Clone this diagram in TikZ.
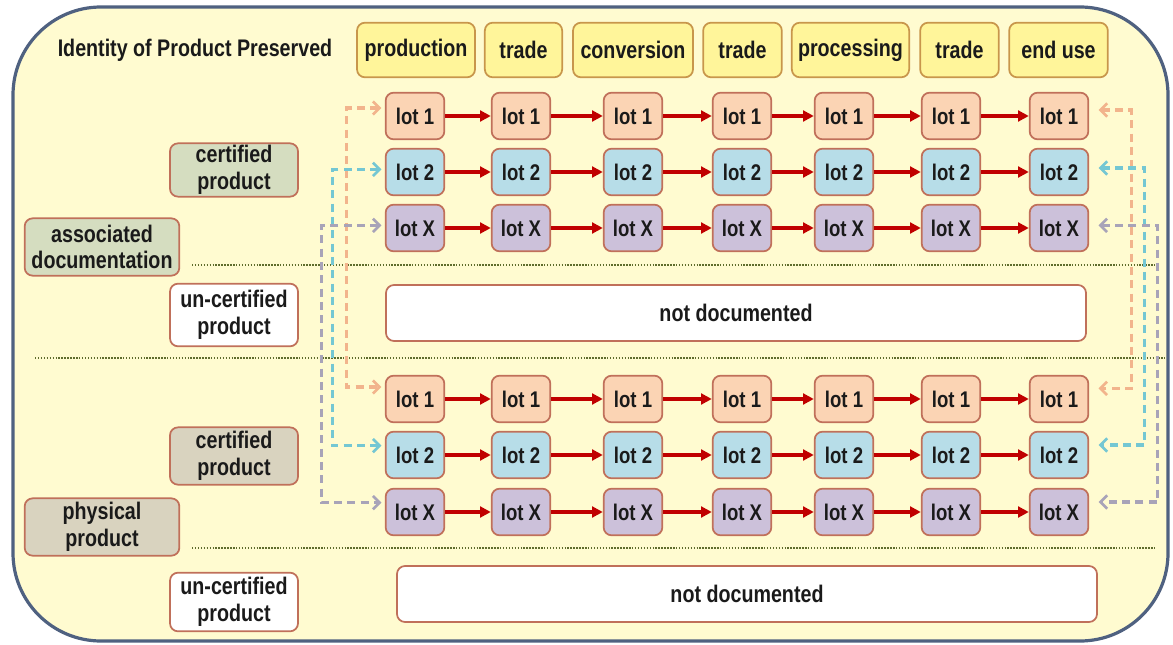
\documentclass[tikz,border=0pt]{standalone}
\usepackage{fontspec}
\setmainfont{Liberation Sans}[FakeStretch=0.82]
\usetikzlibrary{arrows.meta,calc}
\definecolor{framec}{HTML}{4F6180}
\definecolor{framefill}{HTML}{FFFBD0}
\definecolor{boxline}{HTML}{C0705A}
\definecolor{headfill}{HTML}{FFF59A}
\definecolor{headline}{HTML}{C8964B}
\definecolor{lotone}{HTML}{FBD4B4}
\definecolor{lottwo}{HTML}{B7DDE8}
\definecolor{lotx}{HTML}{CCC1DA}
\definecolor{certup}{HTML}{D5DDC0}
\definecolor{certlow}{HTML}{D9D3BF}
\definecolor{redarrow}{HTML}{C00000}
\definecolor{dotc}{HTML}{5E6C2C}
\definecolor{peachd}{HTML}{F2B48C}
\definecolor{cyand}{HTML}{74C7D3}
\definecolor{greyd}{HTML}{A8A3B8}
\definecolor{txt}{HTML}{1A1A1A}
\begin{document}
\begin{tikzpicture}[x=0.75pt,y=-0.75pt,
  every node/.style={text=txt,font=\bfseries\fontsize{18}{20}\selectfont,align=center,inner sep=0pt},
  lotbox/.style={draw=boxline,line width=1.3pt,rounded corners=6pt,minimum width=44pt,minimum height=35pt,font=\bfseries\fontsize{17}{19}\selectfont},
  lotA/.style={lotbox,fill=lotone},
  lotB/.style={lotbox,fill=lottwo},
  lotC/.style={lotbox,fill=lotx},
  headbox/.style={draw=headline,line width=1.3pt,fill=headfill,rounded corners=6pt,minimum height=41pt},
  labbox/.style={draw=boxline,line width=1.3pt,rounded corners=6pt,minimum height=42pt},
  nodoc/.style={draw=boxline,line width=1.3pt,fill=white,rounded corners=6pt,minimum width=525pt,minimum height=42pt},
  flow/.style={draw=redarrow,line width=2.5pt,-{Triangle[length=8pt,width=8pt]}},
  link/.style={line width=2.4pt,dash pattern=on 6pt off 4pt,{Straight Barb[length=5pt,width=10pt,line width=2pt]}-{Straight Barb[length=5pt,width=10pt,line width=2pt]}},
  sep/.style={draw=dotc,line width=1.8pt,dash pattern=on 1.1pt off 1.1pt}
]
\useasboundingbox (0,0) rectangle (1173,645);
\draw[framec,line width=2.4pt,fill=framefill,rounded corners=66pt] (13,7) rectangle (1168,641);

% title and headers
\node (title) at (195,50) {Identity of Product Preserved};
\node[headbox,minimum width=88.5pt] (h1) at (416,50) {production};
\node[headbox,minimum width=58pt] (h2) at (523.5,50) {trade};
\node[headbox,minimum width=90pt] (h3) at (633,50) {conversion};
\node[headbox,minimum width=59pt] (h4) at (742.5,50) {trade};
\node[headbox,minimum width=88pt] (h5) at (850.5,50) {processing};
\node[headbox,minimum width=59pt] (h6) at (959.5,50) {trade};
\node[headbox,minimum width=74pt] (h7) at (1058.5,50) {end use};

% separators
\draw[sep] (192,265) -- (1155,265);
\draw[sep] (35,358) -- (1165,358);
\draw[sep] (192,548) -- (1155,548);

% left labels
\node[labbox,fill=certup,minimum width=96pt,minimum height=40pt] (cu) at (234,170) {certified\\product};
\node[labbox,fill=certup,minimum width=116pt,minimum height=43pt] (ad) at (102,247) {associated\\documentation};
\node[labbox,fill=white,minimum width=96pt,minimum height=47pt] (uu) at (234,315) {un-certified\\product};
\node[labbox,fill=certlow,minimum width=96pt,minimum height=43pt] (cl) at (234,456) {certified\\product};
\node[labbox,fill=certlow,minimum width=116pt,minimum height=43pt] (pp) at (102,527) {physical\\product};
\node[labbox,fill=white,minimum width=96pt,minimum height=44pt] (ul) at (234,602) {un-certified\\product};

% not documented
\node[nodoc] (nd1) at (736,313) {not documented};
\node[nodoc] (nd2) at (747,594) {not documented};

% lots
\foreach \c/\x in {1/415,2/521,3/633,4/742,5/844,6/951,7/1059}{
  \node[lotA] (u1\c) at (\x,116) {lot 1};
  \node[lotB] (u2\c) at (\x,172) {lot 2};
  \node[lotC] (u3\c) at (\x,228) {lot X};
  \node[lotA] (l1\c) at (\x,399) {lot 1};
  \node[lotB] (l2\c) at (\x,455) {lot 2};
  \node[lotC] (l3\c) at (\x,512) {lot X};
}
\foreach \a/\b in {1/2,2/3,3/4,4/5,5/6,6/7}{
  \foreach \r in {1,2,3}{
    \draw[flow] (u\r\a.east) -- (u\r\b.west);
    \draw[flow] (l\r\a.east) -- (l\r\b.west);
  }
}

% dashed links left
\draw[link,peachd] ([xshift=-2.5pt,yshift=6pt]u11.west) -- ++(-35,0) |- ([xshift=-2.5pt,yshift=9pt]l11.west);
\draw[link,cyand] ([xshift=-2.5pt,yshift=2pt]u21.west) -- ++(-49,0) |- ([xshift=-2.5pt,yshift=7pt]l21.west);
\draw[link,greyd] ([xshift=-2.5pt,yshift=2pt]u31.west) -- ++(-60,0) |- ([xshift=-2.5pt,yshift=7pt]l31.west);
% dashed links right
\draw[link,peachd] ([xshift=7pt,yshift=4.5pt]u17.east) -- ++(33,0) |- ([xshift=7pt,yshift=8pt]l17.east);
\draw[link,cyand] ([xshift=7pt,yshift=3pt]u27.east) -- ++(46,0) |- ([xshift=7pt,yshift=7.5pt]l27.east);
\draw[link,greyd] ([xshift=7pt,yshift=2pt]u37.east) -- ++(59,0) |- ([xshift=7pt,yshift=7.5pt]l37.east);
\end{tikzpicture}
\end{document}
